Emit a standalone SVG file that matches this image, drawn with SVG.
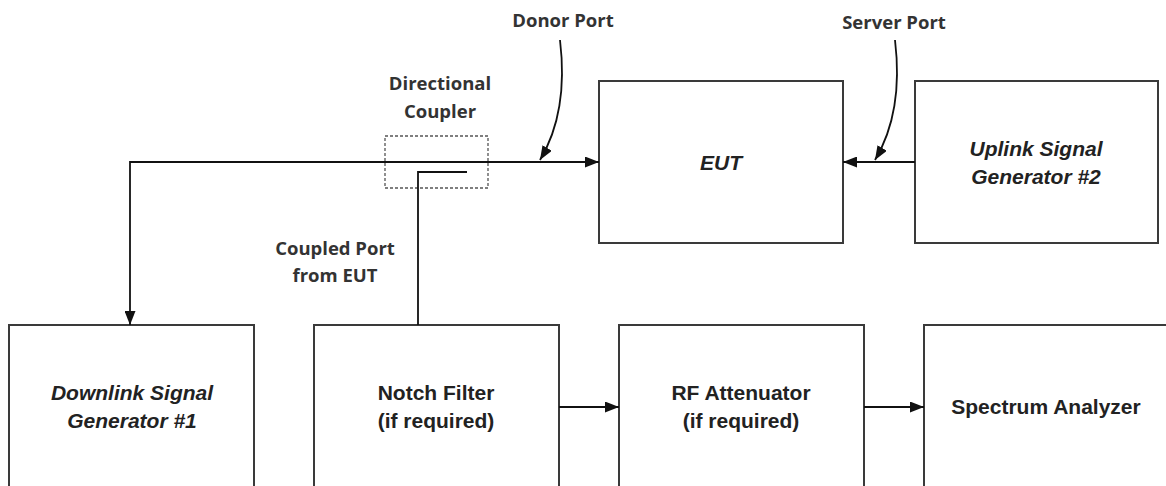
<svg xmlns="http://www.w3.org/2000/svg" width="1166" height="486" viewBox="0 0 1166 486">
<defs>
<style>
.box{fill:#fff;stroke:#3a3a3a;stroke-width:2}
.ln{fill:none;stroke:#111;stroke-width:1.8}
.lbl{font-family:"Open Sans","Noto Sans",sans-serif;font-weight:700;font-size:18.5px;fill:#333;text-anchor:middle}
.bt{font-family:"Liberation Sans",Arial,sans-serif;font-weight:700;font-size:21px;fill:#222;text-anchor:middle}
.it{font-style:italic}
</style>
<marker id="ah" viewBox="0 0 14 11" refX="14" refY="5.5" markerWidth="14" markerHeight="11" markerUnits="userSpaceOnUse" orient="auto">
<path d="M0,0 L14,5.5 L0,11 Z" fill="#111"/>
</marker>
</defs>
<rect width="1166" height="486" fill="#fff"/>

<g id="eut"><rect class="box" x="599" y="81" width="244" height="162"/><text class="bt it" x="721" y="170">EUT</text></g>
<g id="uplink"><rect class="box" x="915" y="81" width="243" height="162"/><text class="bt it" x="1036" y="156">Uplink Signal</text><text class="bt it" x="1036" y="184">Generator #2</text></g>
<g id="downlink"><rect class="box" x="9" y="325" width="245" height="180"/><text class="bt it" x="132" y="400">Downlink Signal</text><text class="bt it" x="132" y="428">Generator #1</text></g>
<g id="notch"><rect class="box" x="314" y="325" width="245" height="180"/><text class="bt" x="436" y="400">Notch Filter</text><text class="bt" x="436" y="428">(if required)</text></g>
<g id="attenuator"><rect class="box" x="619" y="325" width="245" height="180"/><text class="bt" x="741" y="400">RF Attenuator</text><text class="bt" x="741" y="428">(if required)</text></g>
<g id="analyzer"><rect class="box" x="924" y="325" width="250" height="180"/><text class="bt" x="1046" y="414">Spectrum Analyzer</text></g>
<g id="coupler"><rect x="385" y="136" width="103" height="52" fill="none" stroke="#555" stroke-width="1.3" stroke-dasharray="3,2"/><text class="lbl" x="440" y="90">Directional</text><text class="lbl" x="440" y="118">Coupler</text></g>

<g id="labels">
<text class="lbl" x="563" y="27">Donor Port</text>
<text class="lbl" x="894" y="29">Server Port</text>
<text class="lbl" x="335" y="255">Coupled Port</text>
<text class="lbl" x="335" y="282">from EUT</text>
</g>

<g id="connectors">
<path class="ln" d="M130,162 H599" marker-end="url(#ah)"/>
<path class="ln" d="M130,161.1 V325" marker-end="url(#ah)"/>
<path class="ln" d="M915,162 H843" marker-end="url(#ah)"/>
<path class="ln" d="M467,172 H418 V325"/>
<path class="ln" d="M559,407 H619" marker-end="url(#ah)"/>
<path class="ln" d="M864,407 H924" marker-end="url(#ah)"/>
<path class="ln" d="M560,40 C566,90 558,130 540,160" marker-end="url(#ah)"/>
<path class="ln" d="M895,40 C901,90 893,130 875,160" marker-end="url(#ah)"/>
</g>
</svg>
